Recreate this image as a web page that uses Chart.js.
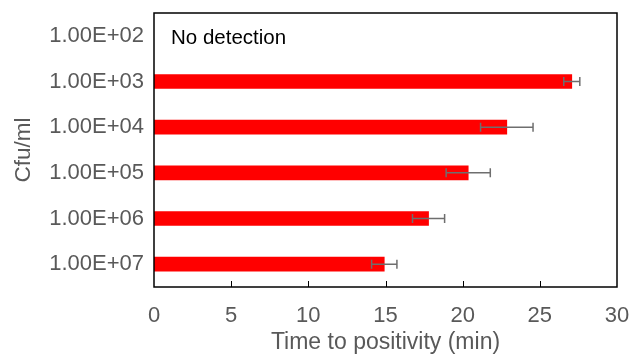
<!DOCTYPE html>
<html lang="en">
<head>
    <meta charset="UTF-8">
    <title>Time to positivity</title>
    <script src="https://cdn.jsdelivr.net/npm/chart.js@4.3.0/dist/chart.umd.min.js"></script>
    <style>
        html, body { margin: 0; padding: 0; background: #fff; }
        #wrap { width: 632px; height: 356px; }
    </style>
</head>
<body>
    <div id="wrap"><canvas id="tppChart" width="632" height="356"></canvas></div>

    <script>
        // Données
        const concentrations = ['1.00E+02', '1.00E+03', '1.00E+04', '1.00E+05', '1.00E+06', '1.00E+07'];
        const timeToPositivity = [null, 27.07, 22.86, 20.36, 17.79, 14.92];
        const stdDev = [null, 0.52, 1.70, 1.43, 1.04, 0.82];
        const xTicks = [0, 5, 10, 15, 20, 25, 30];
        const noDetectionLabel = 'No detection';

        const grey = '#595959';
        const fontFamily = '"Liberation Sans", Arial, sans-serif';

        // Cadre, graduations intérieures, barres d'erreur et texte
        const extras = {
            id: 'extras',
            afterDatasetsDraw(chart) {
                const ctx = chart.ctx;
                const area = chart.chartArea;
                const x = chart.scales.x;
                const y = chart.scales.y;
                ctx.save();

                // barres d'erreur
                ctx.strokeStyle = '#6e6e6e';
                ctx.lineWidth = 1.5;
                timeToPositivity.forEach((v, i) => {
                    if (v === null) return;
                    const yc = y.getPixelForValue(i);
                    const x1 = x.getPixelForValue(v - stdDev[i]);
                    const x2 = x.getPixelForValue(v + stdDev[i]);
                    ctx.beginPath();
                    ctx.moveTo(x1, yc); ctx.lineTo(x2, yc);
                    ctx.moveTo(x1, yc - 4.5); ctx.lineTo(x1, yc + 4.5);
                    ctx.moveTo(x2, yc - 4.5); ctx.lineTo(x2, yc + 4.5);
                    ctx.stroke();
                });

                // graduations vers l'intérieur
                ctx.strokeStyle = '#000';
                ctx.lineWidth = 1;
                xTicks.slice(1, -1).forEach(t => {
                    const px = Math.round(x.getPixelForValue(t)) + 0.5;
                    ctx.beginPath();
                    ctx.moveTo(px, area.bottom);
                    ctx.lineTo(px, area.bottom - 6);
                    ctx.stroke();
                });

                // cadre
                ctx.lineWidth = 1.5;
                ctx.strokeRect(area.left, area.top, area.right - area.left, area.bottom - area.top);

                // texte "No detection"
                ctx.fillStyle = '#000';
                ctx.font = '20.5px ' + fontFamily;
                ctx.textBaseline = 'middle';
                ctx.fillText(noDetectionLabel, x.getPixelForValue(0) + 17, y.getPixelForValue(0) + 3);
                ctx.restore();
            }
        };

        new Chart(document.getElementById('tppChart').getContext('2d'), {
            type: 'bar',
            data: {
                labels: concentrations,
                datasets: [{
                    data: timeToPositivity,
                    backgroundColor: '#ff0000',
                    barThickness: 14
                }]
            },
            options: {
                indexAxis: 'y',
                responsive: false,
                animation: false,
                layout: { padding: { top: 13, right: 15, left: 0, bottom: 0 } },
                plugins: { legend: { display: false }, tooltip: { enabled: false } },
                scales: {
                    x: {
                        min: 0, max: 30,
                        afterBuildTicks: s => { s.ticks = xTicks.map(v => ({ value: v })); },
                        grid: { display: false, drawTicks: false },
                        border: { display: false },
                        ticks: { color: grey, font: { size: 22, family: fontFamily }, padding: 16, maxRotation: 0 },
                        title: { display: true, text: 'Time to positivity (min)', color: grey, font: { size: 23, family: fontFamily }, padding: { top: 4, bottom: 0 } },
                        afterFit: s => { s.height = 69; s.paddingLeft = 0; s.paddingRight = 0; }
                    },
                    y: {
                        grid: { display: false, drawTicks: false },
                        border: { display: false },
                        ticks: { color: grey, font: { size: 22, family: fontFamily }, padding: 10 },
                        title: { display: true, text: 'Cfu/ml', color: grey, font: { size: 22.5, family: fontFamily }, padding: { top: 10, bottom: 0 } },
                        afterFit: s => { s.width = 154; s.paddingTop = 0; s.paddingBottom = 0; }
                    }
                }
            },
            plugins: [extras]
        });
    </script>
</body>
</html>
